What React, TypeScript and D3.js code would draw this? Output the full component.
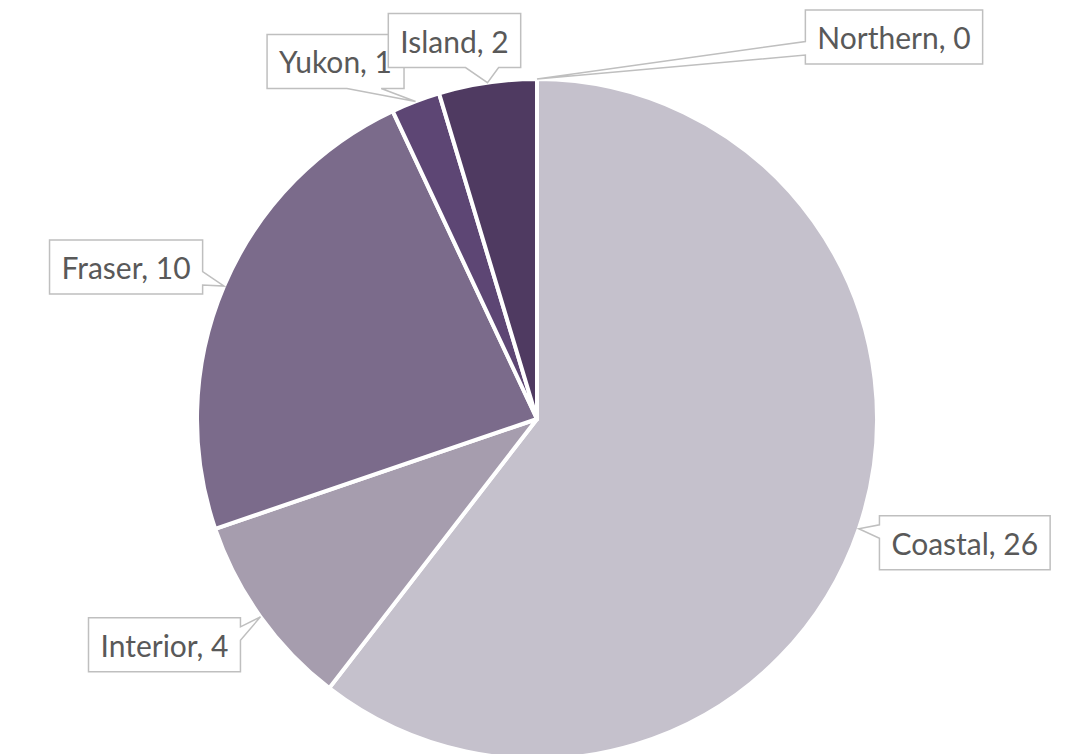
import React, { useEffect, useRef } from "react";
import * as d3 from "d3";

const categories = ["Coastal", "Interior", "Fraser", "Yukon", "Island", "Northern"];
const values = [26, 4, 10, 1, 2, 0];
const colors = ["#c5c1cc", "#a69dae", "#7b6b8b", "#5d4674", "#4f3a61", "#4a365c"];
// label box centre offsets from the slice's outer mid-point (layout only)
const labelOffsets: [number, number][] = [
  [106, 14],
  [-96, 28],
  [-98, -19],
  [-80, -40],
  [-33, -42],
  [357, -42],
];

const W = 1084;
const H = 754;
const CX = 537;
const CY = 419;
const R = 340;

function calloutPath(x0: number, y0: number, w: number, h: number, tx: number, ty: number) {
  const x1 = x0 + w;
  const y1 = y0 + h;
  const hc = x0 + w / 2;
  const vc = y0 + h / 2;
  const dx = tx - hc;
  const dy = ty - vc;
  const dq = (dx * h) / w;
  const dz = Math.abs(dy) - Math.abs(dq);
  const xa = x0 + (w * (dx > 0 ? 7 : 2)) / 12;
  const xb = x0 + (w * (dx > 0 ? 10 : 5)) / 12;
  const ya = y0 + (h * (dy > 0 ? 7 : 2)) / 12;
  const yb = y0 + (h * (dy > 0 ? 10 : 5)) / 12;
  const p = d3.path();
  p.moveTo(x0, y0);
  if (dz > 0 && dy < 0) {
    p.lineTo(xa, y0); p.lineTo(tx, ty); p.lineTo(xb, y0);
  }
  p.lineTo(x1, y0);
  if (dz <= 0 && dx > 0) {
    p.lineTo(x1, ya); p.lineTo(tx, ty); p.lineTo(x1, yb);
  }
  p.lineTo(x1, y1);
  if (dz > 0 && dy > 0) {
    p.lineTo(xb, y1); p.lineTo(tx, ty); p.lineTo(xa, y1);
  }
  p.lineTo(x0, y1);
  if (dz <= 0 && dx < 0) {
    p.lineTo(x0, yb); p.lineTo(tx, ty); p.lineTo(x0, ya);
  }
  p.closePath();
  return p.toString();
}

export default function App() {
  const ref = useRef<SVGSVGElement | null>(null);

  useEffect(() => {
    const svg = d3.select(ref.current);
    svg.selectAll("*").remove();

    const data = categories.map((c, i) => ({ name: c, value: values[i], color: colors[i], off: labelOffsets[i] }));
    const pie = d3
      .pie<any>()
      .sort(null)
      .value((d: any) => d.value)
      .startAngle(0)
      .endAngle(2 * Math.PI);
    const arcs = pie(data);
    const arc = d3.arc<any>().innerRadius(0).outerRadius(R);

    const g = svg.append("g").attr("transform", `translate(${CX},${CY})`);
    g.selectAll("path")
      .data(arcs.filter((a) => a.data.value > 0))
      .enter()
      .append("path")
      .attr("d", arc as any)
      .attr("fill", (d: any) => d.data.color)
      .attr("stroke", "#ffffff")
      .attr("stroke-width", 4)
      .attr("stroke-linejoin", "round");

    const lg = svg.append("g");
    arcs.forEach((a) => {
      const mid = (a.startAngle + a.endAngle) / 2;
      const tx = CX + R * Math.sin(mid);
      const ty = CY - R * Math.cos(mid);
      const cx = tx + a.data.off[0];
      const cy = ty + a.data.off[1];
      const grp = lg.append("g");
      const path = grp.append("path");
      const text = grp
        .append("text")
        .attr("x", cx)
        .attr("y", cy)
        .attr("text-anchor", "middle")
        .attr("dominant-baseline", "central")
        .attr("font-family", "Lato, 'Open Sans', sans-serif")
        .attr("font-size", 30)
        .attr("fill", "#595959")
        .text(`${a.data.name}, ${a.data.value}`);
      const tl = (text.node() as SVGTextElement).getComputedTextLength();
      const bw = tl + 24;
      const bh = 54;
      path
        .attr("d", calloutPath(cx - bw / 2, cy - bh / 2, bw, bh, tx, ty))
        .attr("fill", "#ffffff")
        .attr("stroke", "#bfbfbf")
        .attr("stroke-width", 1.5);
    });
  }, []);

  return (
    <svg
      ref={ref}
      width={W}
      height={H}
      style={{ position: "absolute", left: 0, top: 0, background: "#ffffff" }}
    />
  );
}
